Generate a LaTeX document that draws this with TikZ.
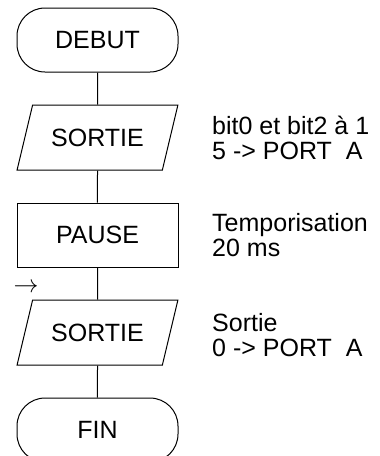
\documentclass[tikz,border=0pt]{standalone}
\usepackage{fontspec}
\setmainfont{Liberation Sans}
\usetikzlibrary{positioning,shapes.geometric}

\begin{document}
\begin{tikzpicture}[x=1pt,y=1pt,node distance=32pt,
    every node/.style={font=\fontsize{25}{25}\selectfont},
    terminal/.style={draw,rectangle,rounded corners=28pt,
      minimum width=161pt,minimum height=64pt,line width=1pt},
    io/.style={draw,trapezium,trapezium left angle=64,trapezium right angle=116,
      trapezium stretches=true,minimum width=161pt,minimum height=65pt,line width=1pt},
    process/.style={draw,rectangle,minimum width=161pt,minimum height=64pt,line width=1pt},
    comment/.style={align=left,anchor=west,inner sep=0pt}]
    \useasboundingbox (0,0) rectangle (380,-456);% Page size
    \coordinate (tx) at (212,0);% Left edge of the comments

    \node[terminal] (debut) at (97.5,-40) {DEBUT};
    \node[io,below=of debut] (s1) {SORTIE};
    \node[process,below=of s1] (pause) {PAUSE};
    \node[io,below=of pause] (s2) {SORTIE};
    \node[terminal,below=of s2] (fin) {FIN};

    \foreach \a/\b in {debut/s1,s1/pause,pause/s2,s2/fin}{% Links between boxes
      \draw[line width=1pt] (\a) -- (\b);
    }

    \node[comment] (c1) at (s1 -| tx) {bit0 et bit2 à 1\\5 -> PORT~~A};
    \node[comment] (c2) at (pause -| tx) {Temporisation\\20 ms};
    \node[comment] (c3) at ([yshift=-3pt]s2 -| tx) {Sortie\\0 -> PORT~~A};

    \node[font=\fontsize{26}{26}\selectfont,inner sep=0pt] (arr) at (26,-288) {$\rightarrow$};
\end{tikzpicture}
\end{document}
